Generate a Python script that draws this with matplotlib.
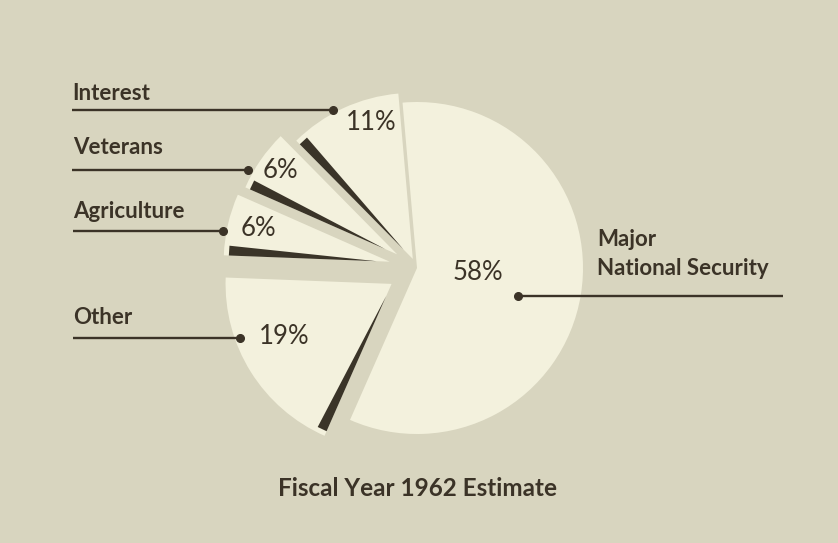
import numpy as np
import matplotlib
matplotlib.use("Agg")
import matplotlib.pyplot as plt
from matplotlib.patches import Polygon

# --------------------------------------------------------------------#
# Data (order: clockwise from 12 o'clock)
# --------------------------------------------------------------------#
categories = ["Major\nNational Security", "Other", "Agriculture", "Veterans", "Interest"]
shares = [58, 19, 6, 6, 11]
pct_labels = ["58%", "19%", "6%", "6%", "11%"]
title = "Fiscal Year 1962 Estimate"

# --------------------------------------------------------------------#
# Style / layout (pixel coordinates, y measured from the top)
# --------------------------------------------------------------------#
W, H = 838, 543
BG = "#d8d5bf"
CREAM = "#f3f1dd"
INK = "#3b3327"
SHADE = "#3a3428"
FONT = "Lato"

PIE_CENTER = (417, 268)
PIE_R = 166
START = 95
EXPLODE = [0, 30, 28, 24, 10]  # pixels (explode is added in data units)

# percentage text positions and label/leader positions
PCT_POS = [(478, 273), (284, 337), (258, 229), (280, 170), (371, 123)]
LABEL_POS = [(597, 254), (73, 318), (73, 211), (73, 148), (72, 93)]
LEADER = [((518, 296), 783), ((240, 338), 73), ((223, 231), 73),
          ((248, 170), 72), ((333, 110), 72)]


def py(y):
    return H - y


fig = plt.figure(figsize=(W / 100, H / 100), dpi=100, facecolor=BG)
ax = fig.add_axes([0, 0, 1, 1])
ax.set_facecolor(BG)

wedges, _ = ax.pie(
    shares,
    startangle=START,
    counterclock=False,
    radius=PIE_R,
    center=(PIE_CENTER[0], py(PIE_CENTER[1])),
    explode=EXPLODE,
    colors=[CREAM] * len(shares),
    wedgeprops=dict(linewidth=0),
    frame=True,
)

# dark "side face" slivers along the lower-left edge of each small slice
for w in wedges[1:]:
    cx, cy = w.center
    t2 = np.radians(w.theta2)
    dt = np.radians(3.5)
    r0, r1 = 0.08 * w.r, 0.97 * w.r
    pts = [
        (cx + r0 * np.cos(t2), cy + r0 * np.sin(t2)),
        (cx + r1 * np.cos(t2), cy + r1 * np.sin(t2)),
        (cx + r1 * np.cos(t2 - dt), cy + r1 * np.sin(t2 - dt)),
    ]
    ax.add_patch(Polygon(pts, closed=True, facecolor=SHADE, edgecolor="none", zorder=3))

# percentages
for (x, y), txt in zip(PCT_POS, pct_labels):
    ax.text(x, py(y), txt, ha="center", va="center", fontsize=18.5,
            family=FONT, color=INK, zorder=5)

# category labels with leader lines
for (x, y), name in zip(LABEL_POS, categories):
    ax.text(x, py(y), name, ha="left", va="center", fontsize=16,
            family=FONT, weight="bold", color=INK, linespacing=1.5, zorder=5)

for (dot, x_end) in LEADER:
    ax.plot([dot[0], x_end], [py(dot[1]), py(dot[1])], color=INK, lw=1.7,
            solid_capstyle="butt", zorder=5)
    ax.plot(dot[0], py(dot[1]), "o", color=INK, ms=5.5, zorder=6)

ax.text(417, py(488), title, ha="center", va="center", fontsize=17.5,
        family=FONT, weight="bold", color=INK)

ax.set_xlim(0, W)
ax.set_ylim(0, H)
ax.set_aspect("equal")
ax.axis("off")

fig.savefig("out.png", dpi=100, facecolor=BG)
